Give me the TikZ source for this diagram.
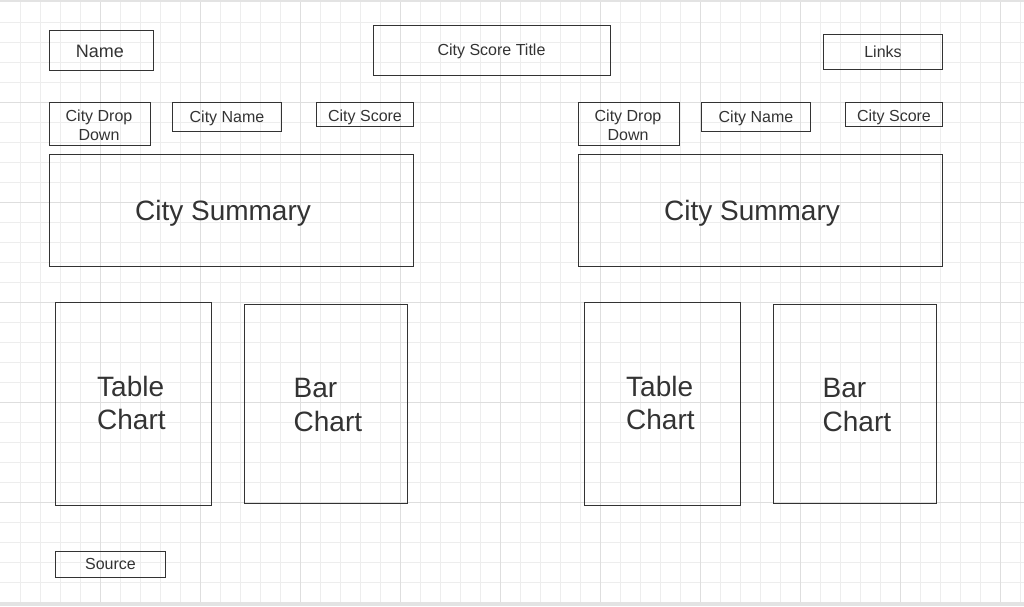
\documentclass[tikz,border=0pt]{standalone}
\usepackage{fontspec}
\setmainfont{Liberation Sans}
\definecolor{ink}{HTML}{333333}
\definecolor{gridminor}{HTML}{EDEDED}
\definecolor{gridmajor}{HTML}{DEDEDE}
\definecolor{band}{HTML}{E3E3E3}
\begin{document}
\begin{tikzpicture}[x=1pt,y=-1pt,
  box/.style={draw=ink, line width=1pt, rectangle, inner sep=0pt, anchor=north west},
  small/.style={font=\fontsize{16}{18.6}\selectfont},
  big/.style={font=\fontsize{28}{33.6}\selectfont},
  lbl/.style={text=ink, inner sep=0pt, anchor=base},
  lblw/.style={text=ink, inner sep=0pt, anchor=base west}]
\useasboundingbox (0,0) rectangle (1024,606);
\fill[white] (0,0) rectangle (1024,606);
% grid
\foreach \x in {20,40,...,1020} {\draw[gridminor, line width=1pt] (\x,2) -- (\x,602);}
\foreach \y in {22,42,...,582} {\draw[gridminor, line width=1pt] (0,\y) -- (1024,\y);}
\foreach \x in {100,200,...,1000} {\draw[gridmajor, line width=1pt] (\x,2) -- (\x,602);}
\foreach \y in {102,202,...,502} {\draw[gridmajor, line width=1pt] (0,\y) -- (1024,\y);}
\fill[band] (0,0) rectangle (1024,2);
\fill[band] (0,602) rectangle (1024,606);
% top row
\node[box, minimum width=104, minimum height=40] (name) at (49,30) {};
\node[lbl, font=\fontsize{18}{21}\selectfont] (nameT) at (100,57.7) {Name};
\node[box, minimum width=237, minimum height=50] (title) at (373,25) {};
\node[lbl, small] (titleT) at (491.5,55.7) {City Score Title};
\node[box, minimum width=119, minimum height=35] (links) at (823,34) {};
\node[lbl, small] (linksT) at (883,57) {Links};
\node[box, minimum width=110, minimum height=26] (source) at (55,551) {};
\node[lbl, small] (sourceT) at (110.5,569.5) {Source};
% two panels
\foreach \dx/\s in {0/L, 529/R} {
  \begin{scope}[xshift=\dx]
  \node[box, minimum width=101, minimum height=43] (drop\s) at (49,102) {};
  \node[lbl, small] (drop\s T) at (99,121.7) {\begin{tabular}[t]{@{}c@{}}City Drop\\Down\end{tabular}};
  \node[box, minimum width=109, minimum height=29] (cname\s) at (172,102) {};
  \node[lbl, small] (cname\s T) at (227,122.3) {City Name};
  \node[box, minimum width=97, minimum height=24] (score\s) at (316,102) {};
  \node[lbl, small] (score\s T) at (365,121.3) {City Score};
  \node[box, minimum width=364, minimum height=112] (sum\s) at (49,154) {};
  \node[lbl, big] (sum\s T) at (223,220.7) {City Summary};
  \node[box, minimum width=156, minimum height=203] (table\s) at (55,302) {};
  \node[lblw, big] (table\s T) at (97,396) {\begin{tabular}[t]{@{}l@{}}Table\\Chart\end{tabular}};
  \node[box, minimum width=163, minimum height=199] (bar\s) at (244,304) {};
  \node[lblw, big] (bar\s T) at (293.5,397.7) {\begin{tabular}[t]{@{}l@{}}Bar\\Chart\end{tabular}};
  \end{scope}
}
\end{tikzpicture}
\end{document}
